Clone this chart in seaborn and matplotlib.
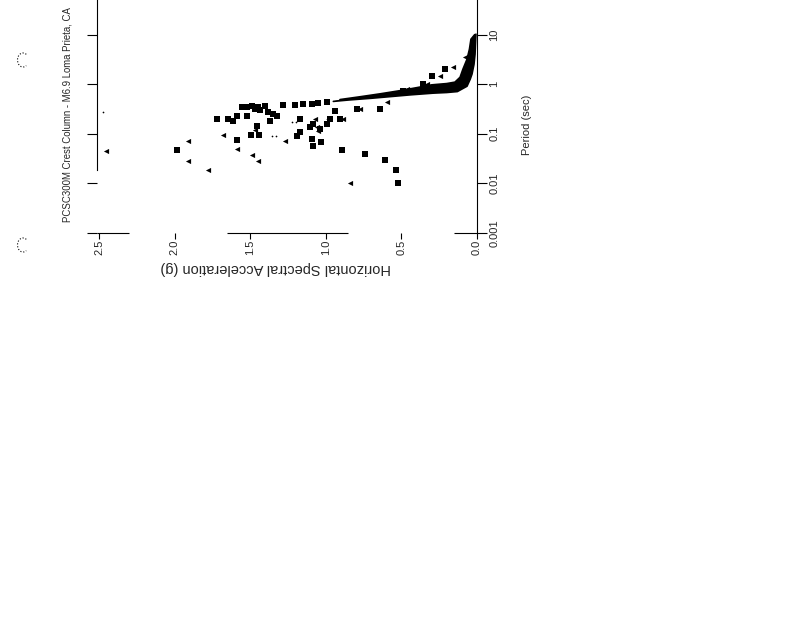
import pandas as pd
import seaborn as sns
import matplotlib.pyplot as plt
from matplotlib import patches, transforms

# spectral acceleration (g) vs period (sec)
# heavy band of overlapping spectra: lower (right) edge
accel_band_a = [0.007, 0.010, 0.013, 0.020, 0.033, 0.045, 0.066, 0.13, 0.20, 0.29,
                0.44, 0.55, 0.70, 0.85, 0.95]
period_band_a = [10.2, 6.4, 4.0, 2.5, 1.6, 1.26, 0.91, 0.71, 0.68, 0.66,
                 0.61, 0.57, 0.52, 0.48, 0.45]
# heavy band: upper (left) edge
accel_band_b = [0.015, 0.040, 0.050, 0.066, 0.093, 0.112, 0.146, 0.20, 0.30, 0.40,
                0.51, 0.64, 0.77, 0.906]
period_band_b = [10.0, 8.07, 5.08, 3.19, 2.01, 1.38, 1.10, 1.03, 0.97, 0.85,
                 0.74, 0.64, 0.56, 0.49]

# square markers
accel_sq = [0.992, 1.052, 1.091, 1.151, 1.204, 1.283, 1.402, 1.488, 1.554, 1.520, 1.450,
            1.468, 1.435, 1.382, 1.349, 1.323,
            1.720, 1.647, 1.614, 1.587, 1.521, 1.455, 1.369, 1.171, 0.939, 0.794, 0.642,
            0.489, 0.972, 0.906, 1.085, 0.992, 1.104, 1.038, 1.171, 1.495, 1.442, 1.587,
            1.091, 1.032, 1.085, 1.984, 0.893, 0.741, 0.608, 0.536, 0.522, 1.190,
            0.212, 0.298, 0.357]
period_sq = [0.43, 0.41, 0.40, 0.40, 0.38, 0.38, 0.36, 0.36, 0.34, 0.345, 0.355,
             0.313, 0.30, 0.27, 0.25, 0.23,
             0.197, 0.197, 0.18, 0.226, 0.226, 0.142, 0.18, 0.197, 0.286, 0.313, 0.313,
             0.72, 0.197, 0.197, 0.156, 0.156, 0.136, 0.124, 0.108, 0.094, 0.094, 0.074,
             0.078, 0.068, 0.056, 0.047, 0.047, 0.039, 0.029, 0.019, 0.0101, 0.089,
             2.0, 1.45, 1.0]

# triangle markers
accel_tri = [2.454, 1.911, 1.911, 1.680, 1.488, 1.448, 1.468, 1.270, 1.071, 1.058, 1.052,
             0.840, 0.595, 0.774, 0.886, 0.159, 0.245, 0.331, 0.463, 0.079, 1.587, 1.779]
period_tri = [0.0446, 0.071, 0.028, 0.094, 0.037, 0.028, 0.118, 0.071, 0.197, 0.136, 0.113,
              0.0101, 0.43, 0.313, 0.197, 2.2, 1.45, 1.0, 0.79, 3.5, 0.049, 0.0185]

# small dots
accel_dot = [2.474, 1.224, 1.198, 1.356, 1.330, 0.992]
period_dot = [0.272, 0.17, 0.17, 0.089, 0.089, 0.197]

accel_ticks = [0.0, 0.5, 1.0, 1.5, 2.0, 2.5]
accel_tick_labels = ["0.0", "0.5", "1.0", "1.5", "2.0", "2.5"]
period_ticks = [0.001, 0.01, 0.1, 1, 10]
period_tick_labels = ["0.001", "0.01", "0.1", "1", "10"]

sq_df = pd.DataFrame({"accel": accel_sq, "period": period_sq})
tri_df = pd.DataFrame({"accel": accel_tri, "period": period_tri})
dot_df = pd.DataFrame({"accel": accel_dot, "period": period_dot})
band_a = pd.DataFrame({"accel": accel_band_a, "period": period_band_a})
band_b = pd.DataFrame({"accel": accel_band_b, "period": period_band_b})

sns.set_style("white")
plt.rcParams["font.family"] = ["Liberation Sans", "DejaVu Sans"]

fig = plt.figure(figsize=(8, 6.18), dpi=100)
# the scanned page is turned on its side: acceleration runs right-to-left,
# period runs upward, and the top of the plot is cut off
ax = fig.add_axes([97 / 800, 385 / 618, 380 / 800, 248 / 618])
ax.set_yscale("log")

# solid band between the two edges
ax.fill(accel_band_a + accel_band_b[::-1], period_band_a + period_band_b[::-1],
        color="black", linewidth=0)
sns.lineplot(data=band_a, x="accel", y="period", sort=False, color="black",
             linewidth=1.2, ax=ax)
sns.lineplot(data=band_b, x="accel", y="period", sort=False, color="black",
             linewidth=1.2, ax=ax)
sns.scatterplot(data=sq_df, x="accel", y="period", marker="s", color="black",
                s=15, linewidth=0, ax=ax)
sns.scatterplot(data=tri_df, x="accel", y="period", marker="<", color="black",
                s=14, linewidth=0, ax=ax)
sns.scatterplot(data=dot_df, x="accel", y="period", marker=".", color="black",
                s=6, linewidth=0, ax=ax)

ax.set_xlim(2.513, 0)
ax.set_ylim(0.001, 100)
ax.set_xlabel("")
ax.set_ylabel("")

ax.set_xticks(accel_ticks)
ax.set_xticklabels(accel_tick_labels)
ax.set_yticks(period_ticks)
ax.set_yticklabels(period_tick_labels)
ax.minorticks_off()
ax.tick_params(axis="x", bottom=True, direction="out", length=4, width=0.8,
               labelrotation=90, labelsize=8, pad=1, color="black")
ax.tick_params(axis="y", left=True, right=True, labelleft=False, labelright=True,
               direction="out", length=7, width=0.8, labelrotation=90, labelsize=8,
               pad=2, color="black")
for lab in ax.get_yticklabels():
    lab.set_va("center")

for side in ["top", "bottom"]:
    ax.spines[side].set_visible(False)
ax.spines["right"].set_linewidth(0.8)
ax.spines["left"].set_linewidth(0.8)
ax.spines["left"].set_bounds(0.019, 100)
for sp in ax.spines.values():
    sp.set_color("black")

# broken bottom axis line from the scan
ax.hlines(0.001, 2.513, 2.3, color="black", linewidth=0.8, clip_on=False)
ax.hlines(0.001, 1.65, 0.85, color="black", linewidth=0.8, clip_on=False)
ax.hlines(0.001, 0.15, 0.0, color="black", linewidth=0.8, clip_on=False)

fig.text(68 / 800, 1 - 222 / 618, "PCSC300M Crest Column - M6.9 Loma Prieta, CA",
         rotation=90, ha="center", va="bottom", fontsize=6.9)
fig.text(276 / 800, 1 - 268 / 618, "Horizontal Spectral Acceleration (g)",
         rotation=180, ha="center", va="center", fontsize=10.5)
fig.text(527 / 800, 1 - 125 / 618, "Period (sec)",
         rotation=90, ha="center", va="center", fontsize=8)

# punch-hole marks on the scanned page
for cy in [60, 245]:
    fig.add_artist(patches.Arc((23, 618 - cy), 11, 14, theta1=60, theta2=300,
                               linestyle=":", linewidth=0.8, color="black",
                               transform=transforms.IdentityTransform()))

fig.savefig("out.png", dpi=100, facecolor="white")
